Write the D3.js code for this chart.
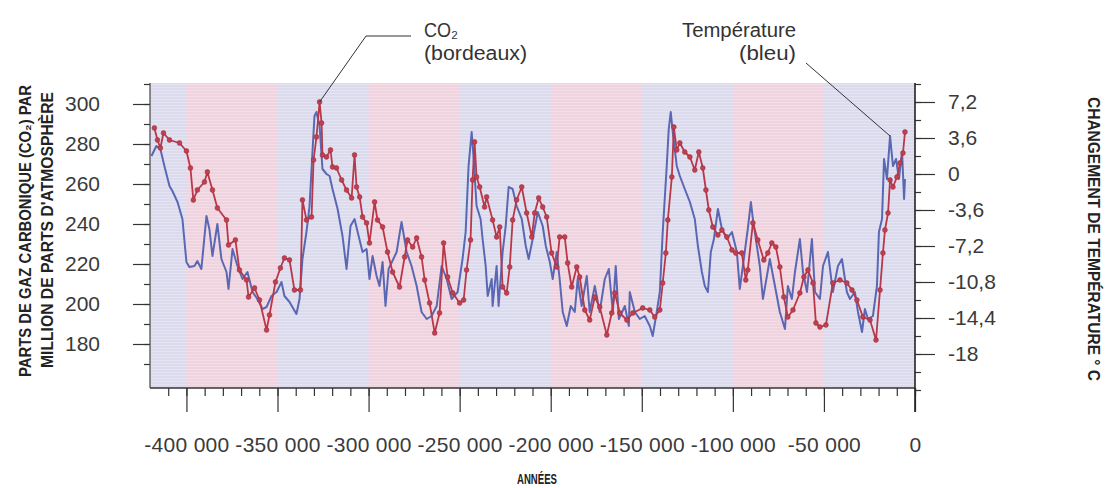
<!DOCTYPE html>
<html><head><meta charset="utf-8">
<script src="https://cdn.jsdelivr.net/npm/d3@7"></script>
<style>
html,body{margin:0;padding:0;background:#fff;}
svg{display:block;}
.tk text{font-family:"Liberation Sans",Arial,sans-serif;font-size:21px;fill:#3a3a3a;}
.ttl{font-family:"Liberation Sans",Arial,sans-serif;font-weight:bold;fill:#222;}
.ann{font-family:"Liberation Sans",Arial,sans-serif;font-size:20px;fill:#333;}
</style></head>
<body>
<script>
// ---- data ----
const co2Years = [-417600,-415900,-414300,-412600,-409300,-403800,-400000,-397800,-396200,-394000,-390100,-388500,-385700,-383000,-378000,-376900,-373100,-370900,-367000,-365900,-362600,-359900,-356000,-354400,-351100,-348400,-346200,-343400,-340700,-337400,-336300,-334100,-331300,-330200,-328600,-326900,-325800,-325300,-323100,-320900,-319800,-317600,-314800,-312100,-309300,-307700,-306600,-304900,-303300,-301100,-299500,-296700,-295100,-292300,-289600,-286800,-283000,-280200,-278600,-275800,-273600,-270900,-269200,-266500,-263700,-261000,-258800,-256600,-253800,-250000,-247800,-246200,-244000,-242900,-241800,-240700,-239000,-236300,-235200,-231900,-229700,-228000,-226400,-224200,-222500,-220900,-218700,-215900,-213200,-210400,-208800,-206600,-204400,-202200,-199500,-196700,-195100,-192300,-190700,-188500,-185700,-184100,-181300,-178600,-175800,-173100,-169200,-166500,-164800,-162100,-158200,-154900,-149500,-145600,-142900,-140100,-138500,-136800,-135700,-133500,-132400,-130800,-129100,-126400,-123600,-120900,-118700,-116500,-114800,-113200,-111000,-108200,-106000,-103300,-100500,-98400,-95100,-92900,-91800,-89000,-86300,-83000,-80800,-78600,-76400,-74200,-72000,-69800,-67000,-63200,-61000,-58800,-56000,-54400,-52200,-48900,-45100,-41200,-37400,-34600,-31900,-28600,-24700,-21400,-19200,-17600,-16500,-14800,-13700,-12100,-9900,-8200,-6600,-5500];
const co2Ppm = [288,282,278,285.5,282,280.5,276.5,268,252,257,261,266,257,248,242,229.5,232,217,212,203.5,208,202,187,194.5,211,218,223,222,207,207,252,242,243.5,272,283.5,301,290.5,274.5,273.5,277,268.5,268,262,257,253,274.5,258.5,253.5,243.5,240.5,230.5,251,242,238.5,226,216,208.5,223.5,232,228.5,233,223.5,212,200.5,185.5,195.5,230.5,213.5,205.5,200.5,202,217,232,262,281,263.5,258.5,248.5,253.5,242,233.5,238.5,208.5,205.5,218.5,242,252,258.5,245.5,233.5,245.5,253,248.5,243.5,225.5,218.5,233.5,233.5,220.5,208.5,218.5,213.5,197,192,203.5,198.5,184.5,195.5,205.5,195.5,192,195.5,198,197,193.5,197,210.5,225.5,242,263.5,288.5,277,280.5,276,273.5,267,276,268,257,247,238.5,234.5,237,233.5,227,225.5,225.5,212,217,240.5,232,222,225.5,230.5,228.5,218.5,203.5,193.5,197,205.5,213.5,217,210.5,190.5,188.5,189.5,210.5,212,210.5,207,202,193.5,192,182,207,225.5,237,245.5,262,258.5,263.5,270.5,275.5,286];

const tempYears = [-419200,-416500,-414300,-412100,-409300,-407700,-404900,-402200,-400000,-398400,-395600,-394000,-391800,-389000,-387400,-385700,-383000,-380800,-378000,-376900,-374700,-372000,-369200,-366500,-363700,-361000,-358200,-356000,-353300,-350500,-347800,-346200,-343400,-339600,-337900,-336300,-334100,-332400,-330800,-329700,-328600,-326900,-325300,-323100,-321400,-319800,-317000,-314300,-312100,-309900,-307700,-306000,-303300,-301100,-299500,-297800,-295600,-294000,-292300,-290700,-289000,-284600,-281900,-279100,-276400,-273600,-270900,-268100,-265400,-262600,-259900,-257100,-254400,-251100,-248400,-246700,-245100,-243400,-242300,-240700,-238500,-237400,-235700,-234600,-232400,-231900,-229700,-228600,-226400,-224700,-223100,-220900,-218700,-215900,-213700,-212100,-209900,-207100,-204400,-202700,-200500,-198900,-196700,-195100,-193400,-191200,-189000,-186800,-185200,-183000,-180200,-178600,-175800,-173100,-170300,-168100,-165900,-164300,-162600,-159300,-157100,-156600,-153800,-151100,-148400,-145600,-144000,-141800,-140100,-138500,-136300,-135200,-134100,-133000,-130800,-129100,-126400,-123600,-120900,-119200,-117000,-115400,-113700,-112100,-110400,-108200,-106000,-103300,-100500,-97800,-96200,-94500,-91800,-90100,-89000,-86800,-85200,-83500,-81300,-79700,-76900,-74200,-71400,-69800,-67600,-65900,-63200,-61500,-59300,-56600,-54900,-52200,-50500,-47800,-45100,-42300,-40100,-37400,-35700,-33000,-31300,-29100,-27500,-25800,-23100,-20900,-19800,-18100,-17000,-15400,-13700,-12100,-10400,-8800,-7100,-6000,-5500];
const tempC = [1.8,2.8,2.5,0.8,-1.2,-1.7,-2.8,-4.5,-8.8,-9.3,-9.2,-8.7,-9.5,-4.2,-5.5,-8.2,-5,-8.5,-9.8,-11.5,-7.5,-9.2,-10.5,-9.8,-11.8,-12.5,-13.5,-13.3,-12.2,-11.8,-10.8,-12.2,-12.8,-14,-12.5,-8.5,-5.8,-3.2,2.2,5.8,6.2,4.8,0.5,0,-0.2,-1.5,-3.5,-6.2,-9.5,-5.2,-4.5,-5.8,-7.8,-7.5,-10.5,-8.2,-10.2,-11.2,-8.8,-13.2,-9.5,-7.8,-4.8,-7.8,-9.2,-11.2,-13.8,-14.5,-14.2,-13.2,-9.2,-10.5,-12.5,-11.8,-8.5,-5.8,0.8,4.2,1.5,-3.2,-4.5,-6.5,-9.2,-12.2,-10.5,-13.2,-9.2,-13.2,-7.8,-5.2,-1.3,-1.5,-3.2,-4.5,-7.2,-8.5,-6.5,-3.8,-5.2,-7.2,-8.8,-10.5,-7.8,-10.5,-13.8,-15.2,-13.2,-13.8,-10.5,-13.2,-10.2,-13.8,-11.2,-13.8,-10.5,-9.5,-13.8,-9.2,-14.5,-13.2,-15.2,-11.8,-13.8,-14.5,-14.2,-15.2,-16.2,-13.8,-11.8,-5.8,0.8,4.5,6.2,4.2,0.8,-0.2,-1.5,-2.8,-4.5,-7.2,-9.8,-11.2,-11.8,-7.8,-6.5,-3.5,-5.5,-6.5,-5.8,-7.8,-11.5,-9.2,-5.5,-2.8,-4.5,-7.2,-9.2,-12.5,-10.2,-8.5,-11.2,-13.8,-15.5,-11.2,-12.5,-9.8,-6.5,-9.8,-11.8,-6.5,-11.8,-12.5,-9.2,-7.8,-11.8,-9.2,-8.5,-11.8,-12.5,-11.8,-13.8,-15.8,-13.5,-14.5,-14.2,-11.2,-5.8,-4.5,1.5,-0.5,3.8,0.8,1.5,-0.5,2.2,-2.5,-0.5];

const xTicks = [-400000,-350000,-300000,-250000,-200000,-150000,-100000,-50000,0];
const xTickLabels = ["-400 000","-350 000","-300 000","-250 000","-200 000","-150 000","-100 000","-50 000","0"];
const co2Ticks = [180,200,220,240,260,280,300];
const tempTicks = [-18,-14.4,-10.8,-7.2,-3.6,0,3.6,7.2];
const tempTickLabels = ["-18","-14,4","-10,8","-7,2","-3,6","0","3,6","7,2"];

// ---- drawing ----
const W=1109,H=488;
const svg=d3.select("body").append("svg").attr("width",W).attr("height",H);
svg.append("rect").attr("width",W).attr("height",H).attr("fill","#fff");

const pTop=83,pBottom=388,pLeft=150,pRight=915;
const x=d3.scaleLinear().domain([-420000,0]).range([pLeft,pRight]);
const yC=d3.scaleLinear().domain([158,310.5]).range([pBottom,pTop]);
const yT=d3.scaleLinear().domain([-21.4,9.1]).range([pBottom,pTop]);

// background bands
const bandG=svg.append("g");
bandG.append("rect").attr("x",pLeft).attr("y",pTop).attr("width",pRight-pLeft).attr("height",pBottom-pTop).attr("fill","#dcdbee");
d3.range(-400000,0,100000).forEach(s=>{
  bandG.append("rect").attr("x",x(s)).attr("y",pTop).attr("width",x(s+50000)-x(s)).attr("height",pBottom-pTop).attr("fill","#efd3df");
});
const pat=svg.append("defs").append("pattern").attr("id","scan").attr("width",4).attr("height",3).attr("patternUnits","userSpaceOnUse");
pat.append("rect").attr("width",4).attr("height",1).attr("fill","#ffffff").attr("opacity",0.25);
bandG.append("rect").attr("x",pLeft).attr("y",pTop).attr("width",pRight-pLeft).attr("height",pBottom-pTop).attr("fill","url(#scan)");

const tData=tempYears.map((d,i)=>({x:d,v:tempC[i]}));
const cData=co2Years.map((d,i)=>({x:d,v:co2Ppm[i]}));
svg.append("path").datum(tData).attr("fill","none").attr("stroke","#5a68b3").attr("stroke-width",2).attr("stroke-linejoin","round")
  .attr("d",d3.line().x(d=>x(d.x)).y(d=>yT(d.v)));
svg.append("path").datum(cData).attr("fill","none").attr("stroke","#b8384a").attr("stroke-width",1.8).attr("stroke-linejoin","round")
  .attr("d",d3.line().x(d=>x(d.x)).y(d=>yC(d.v)));
svg.append("g").selectAll("circle").data(cData).join("circle")
  .attr("cx",d=>x(d.x)).attr("cy",d=>yC(d.v)).attr("r",2.4).attr("fill","#c0404f").attr("stroke","#a02c3c").attr("stroke-width",0.6);

// axes
const axG=svg.append("g").attr("class","tk");
const xa=axG.append("g").attr("transform",`translate(0,${pBottom})`);
xa.call(d3.axisBottom(x).tickValues(d3.range(-410000,1,10000)).tickSize(8).tickFormat(""));
const xb=axG.append("g").attr("transform",`translate(0,${pBottom})`);
xb.call(d3.axisBottom(x).tickValues(xTicks).tickSize(24).tickPadding(25).tickFormat((d,i)=>xTickLabels[i]));
xb.selectAll("text").attr("letter-spacing","0.3px");
const la=axG.append("g").attr("transform",`translate(${pLeft},0)`);
la.call(d3.axisLeft(yC).tickValues(d3.range(170,311,10)).tickSize(6).tickFormat(""));
const lb=axG.append("g").attr("transform",`translate(${pLeft},0)`);
lb.call(d3.axisLeft(yC).tickValues(co2Ticks).tickSize(17).tickPadding(33).tickFormat(d3.format("d")));
const ra=axG.append("g").attr("transform",`translate(${pRight},0)`);
ra.call(d3.axisRight(yT).tickValues(d3.range(-21.6,9.1,1.8)).tickSize(6).tickFormat(""));
const rb=axG.append("g").attr("transform",`translate(${pRight},0)`);
rb.call(d3.axisRight(yT).tickValues(tempTicks).tickSize(20).tickPadding(13).tickFormat((d,i)=>tempTickLabels[i]));
axG.selectAll(".domain").remove();
axG.selectAll("line").attr("stroke","#333").attr("stroke-width",1.2);
svg.append("line").attr("x1",pLeft).attr("x2",pRight).attr("y1",pBottom).attr("y2",pBottom).attr("stroke","#333").attr("stroke-width",1.6);
svg.append("line").attr("x1",pLeft).attr("x2",pLeft).attr("y1",pTop).attr("y2",pBottom).attr("stroke","#444").attr("stroke-width",1.2);
svg.append("line").attr("x1",pRight).attr("x2",pRight).attr("y1",pTop).attr("y2",pBottom+24).attr("stroke","#222").attr("stroke-width",1.6);

// titles (condensed bold)
svg.append("text").attr("class","ttl").attr("font-size",16).attr("text-anchor","middle")
  .attr("textLength",292).attr("lengthAdjust","spacingAndGlyphs")
  .attr("transform",`translate(31,231) rotate(-90)`).text("PARTS DE GAZ CARBONIQUE (CO₂) PAR");
svg.append("text").attr("class","ttl").attr("font-size",16).attr("text-anchor","middle")
  .attr("textLength",276).attr("lengthAdjust","spacingAndGlyphs")
  .attr("transform",`translate(53,230) rotate(-90)`).text("MILLION DE PARTS D'ATMOSPHÈRE");
svg.append("text").attr("class","ttl").attr("font-size",16).attr("text-anchor","middle")
  .attr("textLength",284).attr("lengthAdjust","spacingAndGlyphs")
  .attr("transform",`translate(1088,239) rotate(90)`).text("CHANGEMENT DE TEMPÉRATURE  ° C");
svg.append("text").attr("class","ttl").attr("font-size",15).attr("text-anchor","middle")
  .attr("textLength",40).attr("lengthAdjust","spacingAndGlyphs")
  .attr("x",537).attr("y",484).text("ANNÉES");

// annotations
const cMax=cData.reduce((a,b)=>b.v>a.v?b:a);
const tLast=tData.filter(d=>d.x>-20000).reduce((a,b)=>b.v>a.v?b:a);
svg.append("polyline").attr("fill","none").attr("stroke","#333").attr("stroke-width",1)
  .attr("points",`${x(cMax.x)},${yC(cMax.v)} 366,36 411,36`);
svg.append("line").attr("stroke","#333").attr("stroke-width",1)
  .attr("x1",806).attr("y1",63).attr("x2",x(tLast.x)).attr("y2",yT(tLast.v));
svg.append("text").attr("class","ann").attr("x",424).attr("y",37)
  .attr("textLength",34).attr("lengthAdjust","spacingAndGlyphs").text("CO₂");
svg.append("text").attr("class","ann").attr("x",424).attr("y",60)
  .attr("textLength",103).attr("lengthAdjust","spacingAndGlyphs").text("(bordeaux)");
svg.append("text").attr("class","ann").attr("x",796).attr("y",37).attr("text-anchor","end")
  .attr("textLength",114).attr("lengthAdjust","spacingAndGlyphs").text("Température");
svg.append("text").attr("class","ann").attr("x",796).attr("y",60).attr("text-anchor","end")
  .attr("textLength",57).attr("lengthAdjust","spacingAndGlyphs").text("(bleu)");
</script>
</body></html>
